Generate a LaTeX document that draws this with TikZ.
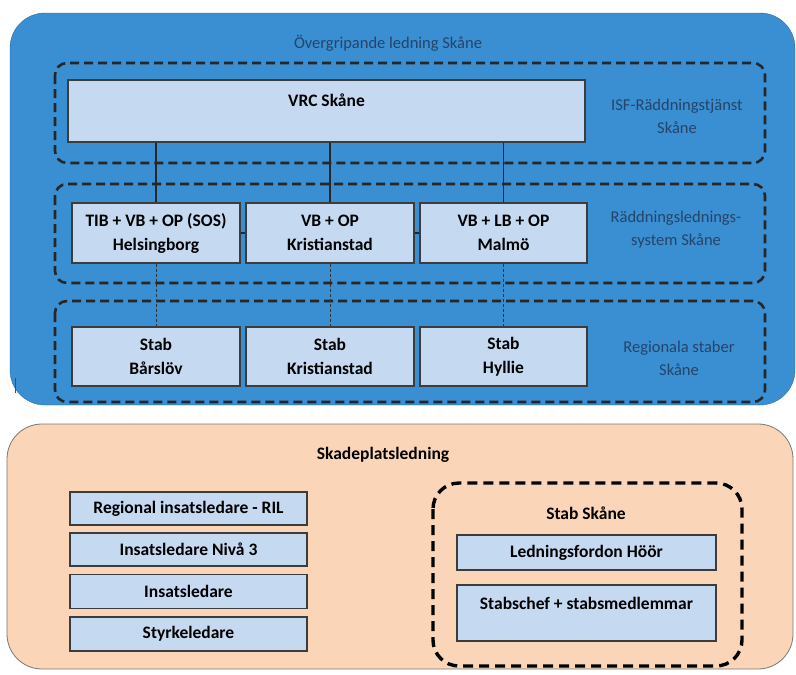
\documentclass[tikz,border=0pt]{standalone}
\usepackage{fontspec}
\setmainfont{Carlito}
\definecolor{skyblue}{RGB}{58,142,210}
\definecolor{skyedge}{RGB}{40,110,170}
\definecolor{peach}{RGB}{251,213,183}
\definecolor{peachedge}{RGB}{120,120,120}
\definecolor{boxfill}{RGB}{197,217,241}
\definecolor{boxline}{RGB}{60,60,60}
\definecolor{sidetext}{RGB}{38,68,105}

\begin{document}
\begin{tikzpicture}[x=1pt,y=-1pt,
  every node/.style={inner sep=0pt},
  box/.style={draw=boxline, line width=1.2pt, fill=boxfill, align=center,
    font=\fontsize{17.5}{24}\selectfont\bfseries},
  frame/.style={draw=black!85, line width=2.6pt, dash pattern=on 9pt off 5pt, rounded corners=12pt},
  side/.style={text=sidetext, align=center, font=\fontsize{16.5}{23}\selectfont},
  link/.style={draw=black!85, line width=1.3pt},
  sublink/.style={draw=black!80, line width=1pt, dash pattern=on 3pt off 2pt}]
\useasboundingbox (0,0) rectangle (796,675);
\draw[fill=skyblue, draw=skyedge, rounded corners=35pt] (10,13) rectangle (795,405);
\draw[fill=peach, draw=peachedge, line width=0.8pt, rounded corners=35pt] (7,424) rectangle (793,669);
\draw[black!70, line width=0.8pt] (15,378) -- (15,393);

\node[side] (title) at (388,43) {Övergripande ledning Skåne};
\draw[frame] (55,63) rectangle (765,163);
\draw[frame] (55,184) rectangle (765,283);
\draw[frame] (55,301) rectangle (765,402);

\node[box, minimum width=517pt, minimum height=62pt, text height=12pt, text depth=22pt] (vrc) at (326.5,111) {VRC Skåne};
\node[side] (isf) at (677,116) {ISF-Räddningstjänst\\Skåne};

\node[box, minimum width=168pt, minimum height=60pt] (hbg) at (156,233) {TIB + VB + OP (SOS)\\Helsingborg};
\node[box, minimum width=168pt, minimum height=60pt] (krd) at (330,233) {VB + OP\\Kristianstad};
\node[box, minimum width=167pt, minimum height=60pt] (mlm) at (503.5,233) {VB + LB + OP\\Malmö};
\node[side] (rls) at (676,230) {Räddningslednings-\\system Skåne};

\node[box, minimum width=168pt, minimum height=59pt] (sbar) at (156,356.5) {Stab\\Bårslöv};
\node[box, minimum width=168pt, minimum height=59pt] (skri) at (330,356.5) {Stab\\Kristianstad};
\node[box, minimum width=167pt, minimum height=59pt] (shyl) at (503.5,356.5) {Stab\\Hyllie};
\node[side] (regst) at (679,358.5) {Regionala staber\\Skåne};

\draw[link] (vrc.south -| hbg.north) -- (hbg.north);
\draw[link] (vrc.south -| krd.north) -- (krd.north);
\draw[link] (vrc.south -| mlm.north) -- (mlm.north);
\draw[link] (hbg.east) -- (krd.west);
\draw[link] (krd.east) -- (mlm.west);
\draw[sublink] (hbg.south) -- (sbar.north);
\draw[sublink] (krd.south) -- (skri.north);
\draw[sublink] (mlm.south) -- (shyl.north);

\node[font=\fontsize{17.5}{24}\selectfont\bfseries] (skade) at (383,455) {Skadeplatsledning};
\node[box, minimum width=237pt, minimum height=33pt] (ril) at (188.5,508.5) {Regional insatsledare - RIL};
\node[box, minimum width=237pt, minimum height=33pt] (niva) at (188.5,549.5) {Insatsledare Nivå 3};
\node[box, minimum width=237pt, minimum height=34pt] (insl) at (188.5,591.5) {Insatsledare};
\node[box, minimum width=237pt, minimum height=34pt] (styrk) at (188.5,634) {Styrkeledare};

\draw[draw=black, line width=3.4pt, dash pattern=on 10pt off 6pt, rounded corners=26pt] (433,483) rectangle (742,666);
\node[font=\fontsize{17.5}{24}\selectfont\bfseries] (stabsk) at (586,513) {Stab Skåne};
\node[box, minimum width=259pt, minimum height=35pt] (lhoor) at (586.5,552.5) {Ledningsfordon Höör};
\node[box, minimum width=259pt, minimum height=56pt, text height=12pt, text depth=20pt] (schef) at (586.5,613) {Stabschef + stabsmedlemmar};
\end{tikzpicture}
\end{document}
